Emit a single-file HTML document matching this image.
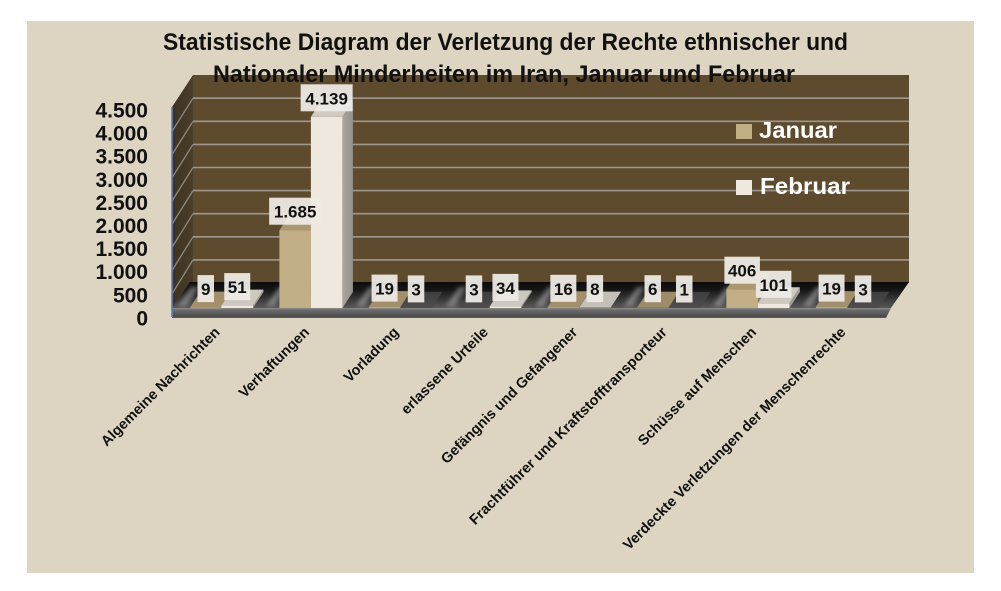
<!DOCTYPE html>
<html>
<head>
<meta charset="utf-8">
<style>
  html, body { margin:0; padding:0; background:#ffffff; }
  svg { display:block; }
  text { font-family: "Liberation Sans", Arial, sans-serif; font-weight: bold; }
</style>
</head>
<body>
<svg width="1001" height="591" viewBox="0 0 1001 591" xmlns="http://www.w3.org/2000/svg">
  <defs>
    <linearGradient id="floorTop" x1="0" y1="282" x2="0" y2="308" gradientUnits="userSpaceOnUse">
      <stop offset="0" stop-color="#0b0b0b"/>
      <stop offset="0.3" stop-color="#161616"/>
      <stop offset="0.6" stop-color="#333333"/>
      <stop offset="1" stop-color="#5a5a5a"/>
    </linearGradient>
    <linearGradient id="floorFront" x1="0" y1="308" x2="0" y2="319" gradientUnits="userSpaceOnUse">
      <stop offset="0" stop-color="#8c8c8c"/>
      <stop offset="0.2" stop-color="#6a6a6a"/>
      <stop offset="0.8" stop-color="#4a4a4a"/>
      <stop offset="1" stop-color="#7a7a7a"/>
    </linearGradient>
    <linearGradient id="sideWall" x1="172" y1="0" x2="193" y2="0" gradientUnits="userSpaceOnUse">
      <stop offset="0" stop-color="#3e3323"/>
      <stop offset="1" stop-color="#4a3d29"/>
    </linearGradient>
    <linearGradient id="febSide" x1="0" y1="0" x2="1" y2="0">
      <stop offset="0" stop-color="#aaa69f"/>
      <stop offset="1" stop-color="#96928b"/>
    </linearGradient>
    <filter id="blur" x="-50%" y="-50%" width="200%" height="200%">
      <feGaussianBlur stdDeviation="2.2"/>
    </filter>
  </defs>

  <rect x="27" y="21" width="947" height="552" fill="#ddd5c2"/>

  <rect x="193" y="75" width="716" height="208" fill="#5e4b2e"/>
  <g stroke="#9d988e" stroke-width="1.6">
    <line x1="193" y1="259.9" x2="909" y2="259.9"/>
    <line x1="193" y1="236.8" x2="909" y2="236.8"/>
    <line x1="193" y1="213.7" x2="909" y2="213.7"/>
    <line x1="193" y1="190.6" x2="909" y2="190.6"/>
    <line x1="193" y1="167.5" x2="909" y2="167.5"/>
    <line x1="193" y1="144.4" x2="909" y2="144.4"/>
    <line x1="193" y1="121.3" x2="909" y2="121.3"/>
    <line x1="193" y1="98.2" x2="909" y2="98.2"/>
  </g>

  <polygon points="172,107 193,75 193,283 172,317" fill="url(#sideWall)"/>
  <g stroke="#8e897f" stroke-width="1.3">
    <line x1="172" y1="293.8" x2="193" y2="259.9"/>
    <line x1="172" y1="270.6" x2="193" y2="236.8"/>
    <line x1="172" y1="247.4" x2="193" y2="213.7"/>
    <line x1="172" y1="224.2" x2="193" y2="190.6"/>
    <line x1="172" y1="201.0" x2="193" y2="167.5"/>
    <line x1="172" y1="177.8" x2="193" y2="144.4"/>
    <line x1="172" y1="154.6" x2="193" y2="121.3"/>
    <line x1="172" y1="131.4" x2="193" y2="98.2"/>
  </g>

  <polygon points="172,308 190,282 909,282 891,308" fill="url(#floorTop)"/>
  <polygon points="172,308 891,308 886,318 172,318" fill="url(#floorFront)"/>
  <g fill="#c8c8c8" opacity="0.45" filter="url(#blur)">
    <polygon points="178,306 186,306 199,287 191,287"/>
    <polygon points="266,306 274,306 287,287 279,287"/>
    <polygon points="356,306 364,306 377,287 369,287"/>
    <polygon points="446,306 454,306 467,287 459,287"/>
    <polygon points="535,306 543,306 556,287 548,287"/>
    <polygon points="624,306 632,306 645,287 637,287"/>
    <polygon points="713,306 721,306 734,287 726,287"/>
    <polygon points="803,306 811,306 824,287 816,287"/>
  </g>

  <line x1="172" y1="107" x2="172" y2="317" stroke="#5b80b8" stroke-width="1.6"/>

  <!-- cat 0 -->
  <polygon points="190,307.6 221.5,307.6 232,291.6 200.5,291.6" fill="#a38f6a"/>
  <rect x="190" y="307.6" width="31.5" height="0.6" fill="#c2ae83"/>
  <polygon points="221.5,305.6 253,305.6 263.5,289.6 232,289.6" fill="#cdc8c0"/>
  <polygon points="253,305.6 263.5,289.6 263.5,292 253,308" fill="#a29e97"/>
  <rect x="221.5" y="305.6" width="31.5" height="2.4" fill="#eee8df"/>
  <!-- cat 1 -->
  <polygon points="279.4,230.2 310.9,230.2 321.4,214.2 289.9,214.2" fill="#ab9770"/>
  <polygon points="310.9,230.2 321.4,214.2 321.4,292 310.9,308" fill="#8e7e5e"/>
  <rect x="279.4" y="230.2" width="31.5" height="77.8" fill="#c3af85"/>
  <polygon points="310.9,116.8 342.4,116.8 352.9,100.8 321.4,100.8" fill="#d0cbc3"/>
  <polygon points="342.4,116.8 352.9,100.8 352.9,292 342.4,308" fill="url(#febSide)"/>
  <rect x="310.9" y="116.8" width="31.5" height="191.2" fill="#eee8df"/>
  <!-- cat 2 -->
  <polygon points="368.8,307.1 400.3,307.1 410.8,291.1 379.3,291.1" fill="#a38f6a"/>
  <rect x="368.8" y="307.1" width="31.5" height="0.9" fill="#c2ae83"/>
  <polygon points="400.3,307.9 431.8,307.9 442.3,291.9 410.8,291.9" fill="#4a4a4a" opacity="0.75"/>
  <!-- cat 3 -->
  <polygon points="458.2,307.9 489.7,307.9 500.2,291.9 468.7,291.9" fill="#4a4a4a" opacity="0.75"/>
  <polygon points="489.7,306.4 521.2,306.4 531.7,290.4 500.2,290.4" fill="#cdc8c0"/>
  <polygon points="521.2,306.4 531.7,290.4 531.7,292 521.2,308" fill="#a29e97"/>
  <rect x="489.7" y="306.4" width="31.5" height="1.6" fill="#eee8df"/>
  <!-- cat 4 -->
  <polygon points="547.6,307.3 579.1,307.3 589.6,291.3 558.1,291.3" fill="#a38f6a"/>
  <rect x="547.6" y="307.3" width="31.5" height="0.7" fill="#c2ae83"/>
  <polygon points="579.1,307.6 610.6,307.6 621.1,291.6 589.6,291.6" fill="#c4bfb7"/>
  <!-- cat 5 -->
  <polygon points="637,307.7 668.5,307.7 679,291.7 647.5,291.7" fill="#9e8b67"/>
  <polygon points="668.5,308 700,308 710.5,292 679,292" fill="#4a4a4a" opacity="0.75"/>
  <!-- cat 6 -->
  <polygon points="726.4,289.2 757.9,289.2 768.4,273.2 736.9,273.2" fill="#ab9770"/>
  <polygon points="757.9,289.2 768.4,273.2 768.4,292 757.9,308" fill="#8e7e5e"/>
  <rect x="726.4" y="289.2" width="31.5" height="18.8" fill="#c3af85"/>
  <polygon points="757.9,303.3 789.4,303.3 799.9,287.3 768.4,287.3" fill="#cdc8c0"/>
  <polygon points="789.4,303.3 799.9,287.3 799.9,292 789.4,308" fill="#a29e97"/>
  <rect x="757.9" y="303.3" width="31.5" height="4.7" fill="#eee8df"/>
  <!-- cat 7 -->
  <polygon points="815.8,307.1 847.3,307.1 857.8,291.1 826.3,291.1" fill="#a38f6a"/>
  <rect x="815.8" y="307.1" width="31.5" height="0.9" fill="#c2ae83"/>
  <polygon points="847.3,307.9 878.8,307.9 889.3,291.9 857.8,291.9" fill="#4a4a4a" opacity="0.75"/>

  <g font-size="17" fill="#111111" text-anchor="middle">
    <g fill="#eeebe6" opacity="0.94">
      <rect x="197.5" y="275.1" width="16.5" height="27"/>
      <rect x="224.25" y="273.1" width="26" height="27"/>
      <rect x="269.15" y="197.7" width="52" height="27"/>
      <rect x="300.65" y="84.3" width="52" height="27"/>
      <rect x="371.55" y="274.6" width="26" height="27"/>
      <rect x="407.8" y="275.4" width="16.5" height="27"/>
      <rect x="465.7" y="275.4" width="16.5" height="27"/>
      <rect x="492.45" y="273.9" width="26" height="27"/>
      <rect x="550.35" y="274.8" width="26" height="27"/>
      <rect x="586.6" y="275.1" width="16.5" height="27"/>
      <rect x="644.5" y="275.2" width="16.5" height="27"/>
      <rect x="676" y="275.5" width="16.5" height="27"/>
      <rect x="724.4" y="256.7" width="35.5" height="27"/>
      <rect x="755.9" y="270.8" width="35.5" height="27"/>
      <rect x="818.55" y="274.6" width="26" height="27"/>
      <rect x="854.8" y="275.4" width="16.5" height="27"/>
    </g>
    <text x="205.75" y="295.1">9</text>
    <text x="237.25" y="293.1">51</text>
    <text x="295.15" y="217.7">1.685</text>
    <text x="326.65" y="104.3">4.139</text>
    <text x="384.55" y="294.6">19</text>
    <text x="416.05" y="295.4">3</text>
    <text x="473.95" y="295.4">3</text>
    <text x="505.45" y="293.9">34</text>
    <text x="563.35" y="294.8">16</text>
    <text x="594.85" y="295.1">8</text>
    <text x="652.75" y="295.2">6</text>
    <text x="684.25" y="295.5">1</text>
    <text x="742.15" y="276.7">406</text>
    <text x="773.65" y="290.8">101</text>
    <text x="831.55" y="294.6">19</text>
    <text x="863.05" y="295.4">3</text>
  </g>

  <g font-size="24" fill="#111111">
    <text x="163" y="50" textLength="685" lengthAdjust="spacingAndGlyphs">Statistische Diagram der Verletzung der Rechte ethnischer und</text>
    <text x="213" y="82" textLength="582" lengthAdjust="spacingAndGlyphs">Nationaler Minderheiten im Iran, Januar und Februar</text>
  </g>

  <rect x="736" y="124" width="16" height="15" fill="#c2ae83"/>
  <rect x="736" y="180" width="16" height="15" fill="#eee8df"/>
  <g font-size="23" fill="#ffffff">
    <text x="759" y="138" textLength="78" lengthAdjust="spacingAndGlyphs">Januar</text>
    <text x="760" y="194" textLength="90" lengthAdjust="spacingAndGlyphs">Februar</text>
  </g>

  <g font-size="21" fill="#111111" text-anchor="end">
    <text x="148" y="117.5">4.500</text>
    <text x="148" y="140.6">4.000</text>
    <text x="148" y="163.7">3.500</text>
    <text x="148" y="186.8">3.000</text>
    <text x="148" y="209.9">2.500</text>
    <text x="148" y="233.0">2.000</text>
    <text x="148" y="256.1">1.500</text>
    <text x="148" y="279.2">1.000</text>
    <text x="148" y="302.3">500</text>
    <text x="148" y="325.4">0</text>
  </g>

  <g font-size="14.5" fill="#111111" text-anchor="end">
    <text transform="translate(220.7,333) rotate(-45)">Algemeine Nachrichten</text>
    <text transform="translate(310.1,333) rotate(-45)">Verhaftungen</text>
    <text transform="translate(399.5,333) rotate(-45)">Vorladung</text>
    <text transform="translate(488.9,333) rotate(-45)">erlassene Urteile</text>
    <text transform="translate(578.3,333) rotate(-45)">Gefängnis und Gefangener</text>
    <text transform="translate(667.7,333) rotate(-45)">Frachtführer und Kraftstofftransporteur</text>
    <text transform="translate(757.1,333) rotate(-45)">Schüsse auf Menschen</text>
    <text transform="translate(846.5,333) rotate(-45)">Verdeckte Verletzungen der Menschenrechte</text>
  </g>
</svg>
</body>
</html>
